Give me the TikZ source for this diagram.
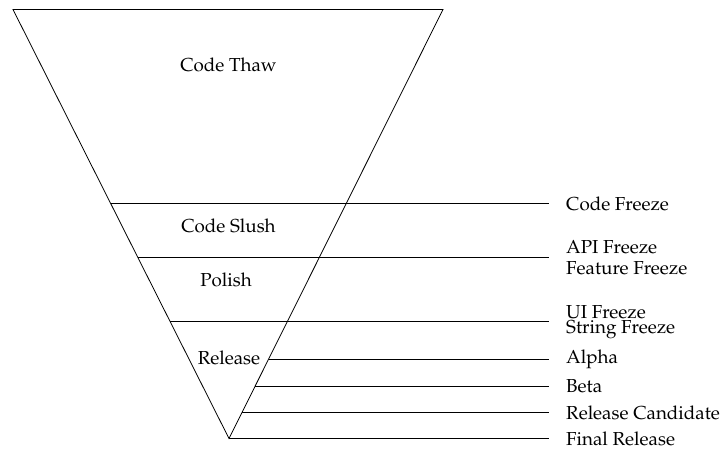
\documentclass[tikz,border=0pt]{standalone}
\usepackage[T1]{fontenc}
\usepackage{mathpazo}
\usetikzlibrary{calc}
\begin{document}
\begin{tikzpicture}[x=1pt,y=-1pt,
  edge/.style={draw=black,line width=0.8pt},
  lbl/.style={font=\fontsize{18.8}{22}\selectfont,inner sep=0pt},
  side/.style={lbl,anchor=west,align=left}]
\useasboundingbox (0,0) rectangle (722,450);
\coordinate (TL) at (13,9.5);
\coordinate (TR) at (443,9.5);
\coordinate (A) at (229,438.5);
\coordinate (E) at (549,0);
\draw[edge] (TL) -- (TR) -- (A) -- cycle;
% left-side crossings
\coordinate (L1) at ($(TL)!0.4516!(A)$);
\coordinate (L2) at ($(TL)!0.5776!(A)$);
\coordinate (L3) at ($(TL)!0.7270!(A)$);
% right-side crossings
\coordinate (R1) at ($(TR)!0.8145!(A)$);
\coordinate (R2) at ($(TR)!0.8775!(A)$);
\coordinate (R3) at ($(TR)!0.9393!(A)$);
\coordinate (E1) at (L1 -| E);
\coordinate (E2) at (L2 -| E);
\coordinate (E3) at (L3 -| E);
\coordinate (E4) at (R1 -| E);
\coordinate (E5) at (R2 -| E);
\coordinate (E6) at (R3 -| E);
\coordinate (E7) at (A -| E);
\draw[edge] (L1) -- (E1);
\draw[edge] (L2) -- (E2);
\draw[edge] (L3) -- (E3);
\draw[edge] (R1) -- (E4);
\draw[edge] (R2) -- (E5);
\draw[edge] (R3) -- (E6);
\draw[edge] (A) -- (E7);
% phase labels
\node[lbl] (thaw) at (228.5,65) {Code Thaw};
\node[lbl] (slush) at (228.5,226) {Code Slush};
\node[lbl] (polish) at (226,280) {Polish};
\node[lbl] (release) at (229,358) {Release};
% milestone labels
\node[side] (cf) at ($(E1)+(17,1)$) {Code Freeze};
\node[side] (api) at ($(E2)+(17,0.5)$) {API Freeze\\[-1pt]Feature Freeze};
\node[side] (ui) at ($(E3)+(17,0.5)$) {UI Freeze\\[-6.5pt]String Freeze};
\node[side] (alpha) at ($(E4)+(17,0)$) {Alpha};
\node[side] (beta) at ($(E5)+(17,0)$) {Beta};
\node[side] (rc) at ($(E6)+(17,0)$) {Release Candidate};
\node[side] (final) at ($(E7)+(17,0)$) {Final Release};
\end{tikzpicture}
\end{document}
